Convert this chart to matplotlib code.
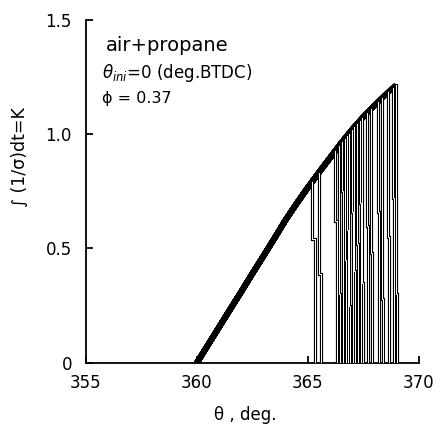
import matplotlib
matplotlib.use("Agg")
import matplotlib.pyplot as plt

plt.rcParams['font.family'] = ['DejaVu Sans']

# shared rise of K vs crank angle
rise_theta = [360.0, 360.5, 361.0, 361.5, 362.0, 362.5, 363.0, 363.5, 364.0,
              364.5, 365.0, 365.5, 366.0, 366.5, 367.0, 367.5, 368.0, 368.5, 369.0]
rise_K = [0.0, 0.078, 0.156, 0.234, 0.311, 0.390, 0.467, 0.545, 0.625,
          0.697, 0.766, 0.832, 0.896, 0.960, 1.020, 1.075, 1.125, 1.172, 1.215]

# per-cycle end of integration (ignition), step on the drop and bottom position
end_theta = [365.18, 365.48, 366.23, 366.41, 366.54, 366.67, 366.76, 366.85, 366.98, 367.08,
             367.21, 367.35, 367.44, 367.66, 367.84, 368.16, 368.34, 368.61, 368.83, 368.97]
end_K = [0.790, 0.829, 0.925, 0.948, 0.965, 0.980, 0.991, 1.002, 1.018, 1.029,
         1.043, 1.059, 1.068, 1.091, 1.109, 1.140, 1.157, 1.182, 1.202, 1.215]
step_K = [0.54, 0.39, 0.62, 0.30, 0.75, 0.45, 0.58, 0.25, 0.66, 0.40,
          0.52, 0.70, 0.35, 0.60, 0.48, 0.66, 0.28, 0.55, 0.72, 0.30]
bottom_theta = [365.30, 365.58, 366.30, 366.47, 366.60, 366.72, 366.82, 366.90, 367.03, 367.12,
                367.26, 367.40, 367.48, 367.72, 367.90, 368.22, 368.38, 368.66, 368.90, 369.03]

title_text = "air+propane"
cond_text = r"$\theta_{ini}$=0 (deg.BTDC)"
phi_text = "\u03d5 = 0.37"
xlabel = "\u03b8 , deg."
ylabel = "\u222b (1/\u03c3)dt=K"
xticks = [355, 360, 365, 370]
yticks = [0, 0.5, 1.0, 1.5]
yticklabels = ["0", "0.5", "1.0", "1.5"]

fig = plt.figure(figsize=(4.4, 4.25), dpi=100)
ax = fig.add_axes([0.195, 0.146, 0.757, 0.808])

for e, ek, sk, b in zip(end_theta, end_K, step_K, bottom_theta):
    xs = [t for t in rise_theta if t < e] + [e]
    ys = [k for t, k in zip(rise_theta, rise_K) if t < e] + [ek]
    ax.plot(xs, ys, color='black', lw=4.0, solid_capstyle='butt', zorder=2)
    dx = [e, e, b, b]
    dy = [ek, sk, sk, 0]
    ax.plot(dx, dy, color='black', lw=2.3, solid_joinstyle='miter', zorder=3)
    ax.plot(dx, dy, color='white', lw=0.7, zorder=4)

ax.set_xlim(355, 370)
ax.set_ylim(0, 1.5)
ax.set_xticks(xticks)
ax.set_yticks(yticks)
ax.set_yticklabels(yticklabels)
for s in ['top', 'right']:
    ax.spines[s].set_visible(False)
for s in ['left', 'bottom']:
    ax.spines[s].set_linewidth(1.3)
ax.tick_params(direction='in', length=5, width=1.3, labelsize=12)
ax.tick_params(axis='x', pad=8)
ax.tick_params(axis='y', pad=10)
ax.set_xlabel(xlabel, fontsize=12)
ax.set_ylabel(ylabel, fontsize=12.5)
ax.xaxis.set_label_coords(0.48, -0.125)
ax.yaxis.set_label_coords(-0.17, 0.6)

ax.text(0.06, 0.925, title_text, transform=ax.transAxes, fontsize=14, va='center')
ax.text(0.05, 0.843, cond_text, transform=ax.transAxes, fontsize=12, va='center')
ax.text(0.05, 0.77, phi_text, transform=ax.transAxes, fontsize=11.5, va='center')

fig.savefig("out.png", dpi=100)
